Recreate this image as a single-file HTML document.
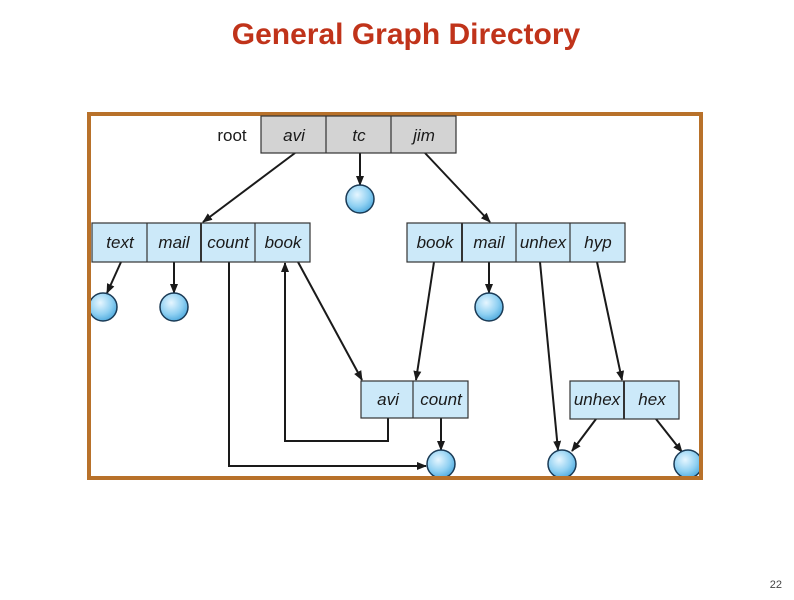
<!DOCTYPE html>
<html><head><meta charset="utf-8"><style>
html,body{margin:0;padding:0;background:#fff;}
body{width:794px;height:595px;overflow:hidden;}
</style></head><body>
<svg width="794" height="595" viewBox="0 0 794 595" xmlns="http://www.w3.org/2000/svg">
<defs>
<radialGradient id="g" cx="40%" cy="35%" r="70%">
<stop offset="0" stop-color="#e6f6ff"/><stop offset="0.6" stop-color="#8fd0f2"/><stop offset="1" stop-color="#4aa7dc"/>
</radialGradient>
<marker id="a" markerWidth="10" markerHeight="10" refX="9" refY="5" orient="auto" markerUnits="userSpaceOnUse">
<path d="M0,1 L10,5 L0,9 Z" fill="#1a1a1a"/>
</marker>
<clipPath id="c"><rect x="90" y="116" width="609" height="360"/></clipPath>
</defs>
<text x="406" y="44" text-anchor="middle" font-family="Liberation Sans, sans-serif" font-weight="bold" font-size="30" fill="#c0331a">General Graph Directory</text>
<text x="782" y="588" text-anchor="end" font-family="Liberation Sans, sans-serif" font-size="11" fill="#444">22</text>

<g stroke="#1a1a1a" stroke-width="2" fill="none">
<line x1="295" y1="153" x2="203" y2="222" marker-end="url(#a)"/>
<line x1="360" y1="153" x2="360" y2="185" marker-end="url(#a)"/>
<line x1="425" y1="153" x2="490" y2="222" marker-end="url(#a)"/>
<line x1="121" y1="262" x2="107" y2="293" marker-end="url(#a)"/>
<line x1="174" y1="262" x2="174" y2="293" marker-end="url(#a)"/>
<polyline points="229,262 229,466 426,466" marker-end="url(#a)"/>
<polyline points="388,418 388,441 285,441 285,263" marker-end="url(#a)"/>
<line x1="298" y1="262" x2="362" y2="380" marker-end="url(#a)"/>
<line x1="434" y1="262" x2="416" y2="380" marker-end="url(#a)"/>
<line x1="489" y1="262" x2="489" y2="293" marker-end="url(#a)"/>
<line x1="540" y1="262" x2="558" y2="450" marker-end="url(#a)"/>
<line x1="597" y1="262" x2="622" y2="380" marker-end="url(#a)"/>
<line x1="596" y1="419" x2="572" y2="451" marker-end="url(#a)"/>
<line x1="656" y1="419" x2="682" y2="452" marker-end="url(#a)"/>
<line x1="441" y1="418" x2="441" y2="450" marker-end="url(#a)"/>
</g>

<g clip-path="url(#c)" fill="url(#g)" stroke="#1a3a55" stroke-width="1.5">
<circle cx="360" cy="199" r="14"/>
<circle cx="103" cy="307" r="14"/>
<circle cx="174" cy="307" r="14"/>
<circle cx="489" cy="307" r="14"/>
<circle cx="441" cy="464" r="14"/>
<circle cx="562" cy="464" r="14"/>
<circle cx="688" cy="464" r="14"/>
</g>

<rect x="89" y="114" width="612" height="364" fill="none" stroke="#b8712a" stroke-width="4"/>

<g stroke="#333" stroke-width="1.2" font-family="Liberation Sans, sans-serif" font-style="italic" font-size="17" text-anchor="middle">
<rect x="261" y="116" width="195" height="37" fill="#d3d3d3"/>
<line x1="326" y1="116" x2="326" y2="153"/><line x1="391" y1="116" x2="391" y2="153"/>
<rect x="92" y="223" width="218" height="39" fill="#cce9f9"/>
<line x1="147" y1="223" x2="147" y2="262"/><line x1="201" y1="223" x2="201" y2="262" stroke-width="2"/><line x1="255" y1="223" x2="255" y2="262"/>
<rect x="407" y="223" width="218" height="39" fill="#cce9f9"/>
<line x1="462" y1="223" x2="462" y2="262" stroke-width="2"/><line x1="516" y1="223" x2="516" y2="262"/><line x1="570" y1="223" x2="570" y2="262"/>
<rect x="361" y="381" width="107" height="37" fill="#cce9f9"/>
<line x1="413" y1="381" x2="413" y2="418"/>
<rect x="570" y="381" width="109" height="38" fill="#cce9f9"/>
<line x1="624" y1="381" x2="624" y2="419" stroke-width="2"/>
<g stroke="none" fill="#1a1a1a">
<text x="294" y="141">avi</text><text x="359" y="141">tc</text><text x="424" y="141">jim</text>
<text x="120" y="248">text</text><text x="174" y="248">mail</text><text x="228" y="248">count</text><text x="283" y="248">book</text>
<text x="435" y="248">book</text><text x="489" y="248">mail</text><text x="543" y="248">unhex</text><text x="598" y="248">hyp</text>
<text x="388" y="405">avi</text><text x="441" y="405">count</text>
<text x="597" y="405">unhex</text><text x="652" y="405">hex</text>
<text x="232" y="141" font-style="normal">root</text>
</g>
</g>
</svg>
</body></html>
